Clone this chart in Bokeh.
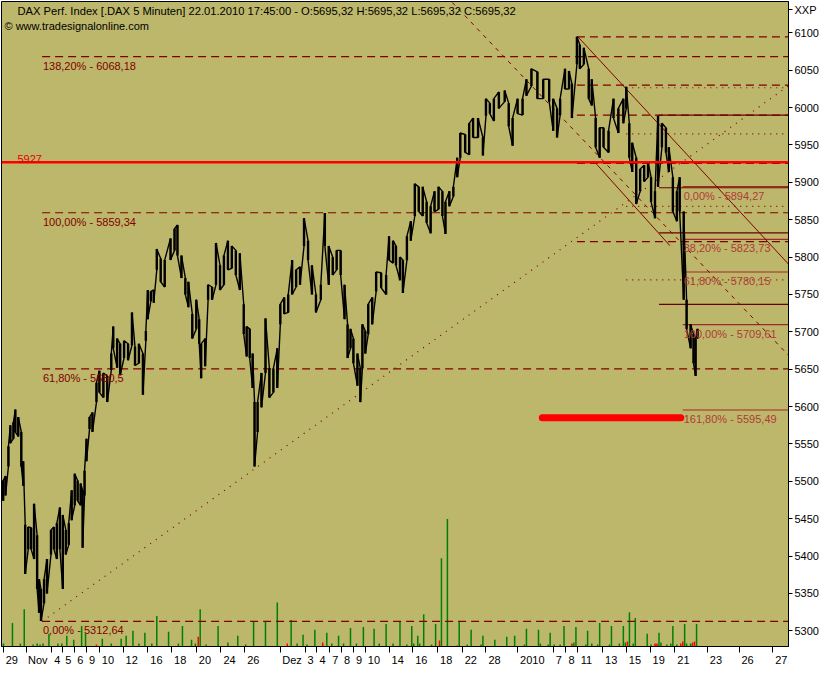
import numpy as np
from bokeh.plotting import figure
from bokeh.models import (Range1d, FixedTicker, Label, LabelSet, ColumnDataSource, Span,
                          LinearAxis)
from bokeh.core.properties import value
from bokeh.embed import file_html
from bokeh.resources import INLINE

# ---------------- data (x = trading days since 29 Oct 2009) ----------------
t = [0.0, 0.19, 0.43, 0.59, 0.84, 1.0, 1.24, 1.49, 1.65, 1.81,
     2.06, 2.30, 2.54, 2.79, 2.95, 3.11, 3.36, 3.60, 3.93, 4.17,
     4.41, 4.66, 4.90, 5.15, 5.39, 5.63, 5.88, 6.12, 6.37, 6.53,
     6.69, 6.85, 7.10, 7.34, 7.67, 7.91, 8.24, 8.56, 8.89, 9.05,
     9.37, 9.62, 9.94, 10.27, 10.59, 10.84, 11.16, 11.49, 11.73, 11.89,
     12.14, 12.38, 12.63, 12.95, 13.28, 13.76, 14.09, 14.33, 14.66, 14.98,
     15.23, 15.55, 15.88, 16.12, 16.28, 16.61, 16.85, 17.18, 17.50, 17.83,
     18.15, 18.48, 18.80, 19.13, 19.46, 19.78, 20.02, 20.27, 20.51, 20.67,
     20.92, 21.24, 21.57, 21.89, 22.22, 22.54, 22.79, 23.11, 23.44, 23.76,
     24.09, 24.41, 24.74, 25.07, 25.39, 25.72, 26.12, 26.45, 26.77, 27.10,
     27.42, 27.75, 28.07, 28.32, 28.56, 28.80, 29.13, 29.37, 29.54, 29.78,
     30.02, 30.35, 30.67, 31.08, 31.49, 31.73, 32.06, 32.30, 32.63, 32.87,
     33.20, 33.52, 33.85, 34.17, 34.50, 34.82, 35.15, 35.47, 35.80, 36.12,
     36.37, 36.69, 37.02, 37.34, 37.59, 37.99, 38.32, 38.64, 39.05, 39.45,
     39.70, 40.02, 40.35, 40.76, 41.24, 41.57, 41.89, 42.30, 42.71, 43.03,
     43.44, 43.93, 44.41, 44.90, 45.23, 45.55, 45.80, 46.20, 46.53, 46.77,
     47.18, 47.42, 47.75, 48.15, 48.40, 48.72, 49.05, 49.37, 49.78, 50.19,
     50.59, 51.00, 51.24, 51.49, 51.73, 52.06, 52.38, 52.71, 53.03, 53.28,
     53.60, 53.85, 54.17, 54.50, 54.74, 55.07, 55.40, 55.63, 55.96, 56.20,
     56.53, 56.77, 56.94, 57.10]

high = [5501, 5507, 5547, 5575, 5579, 5596, 5586, 5566, 5527, 5442,
        5439, 5438, 5470, 5428, 5369, 5356, 5369, 5396, 5435, 5439,
        5444, 5465, 5455, 5435, 5444, 5488, 5510, 5501, 5497, 5488,
        5514, 5557, 5586, 5592, 5632, 5648, 5645, 5641, 5671, 5707,
        5691, 5684, 5688, 5684, 5726, 5680, 5684, 5671, 5701, 5756,
        5754, 5756, 5811, 5798, 5796, 5825, 5838, 5843, 5802, 5772,
        5767, 5724, 5743, 5717, 5684, 5691, 5763, 5760, 5819, 5789,
        5802, 5822, 5815, 5809, 5805, 5737, 5707, 5704, 5671, 5606,
        5606, 5645, 5718, 5651, 5651, 5678, 5737, 5746, 5750, 5796,
        5783, 5787, 5852, 5822, 5789, 5750, 5763, 5859, 5815, 5800,
        5809, 5809, 5763, 5710, 5704, 5691, 5671, 5651, 5710, 5701,
        5737, 5746, 5780, 5779, 5776, 5828, 5822, 5815, 5800, 5796,
        5828, 5848, 5898, 5894, 5894, 5874, 5868, 5888, 5894, 5888,
        5874, 5888, 5894, 5933, 5966, 5964, 5979, 5986, 5986, 5960,
        6012, 6006, 6012, 6021, 6023, 6006, 5986, 6012, 6012, 6038,
        6052, 6048, 6038, 6038, 6012, 5999, 6012, 6052, 6049, 6032,
        6095, 6084, 6080, 6052, 6038, 5986, 5973, 5973, 5969, 6012,
        5999, 6012, 6028, 5979, 5953, 5933, 5918, 5923, 5927, 5907,
        5888, 5989, 5979, 5973, 5947, 5907, 5888, 5907, 5861, 5743,
        5710, 5697, 5691, 5704]

low = [5474, 5481, 5520, 5551, 5557, 5566, 5560, 5520, 5494, 5376,
       5409, 5409, 5396, 5356, 5324, 5313, 5337, 5350, 5402, 5409,
       5396, 5409, 5356, 5402, 5415, 5448, 5468, 5474, 5468, 5411,
       5481, 5527, 5570, 5566, 5606, 5619, 5612, 5606, 5649, 5678,
       5652, 5642, 5665, 5662, 5682, 5655, 5658, 5616, 5688, 5717,
       5741, 5739, 5783, 5767, 5760, 5796, 5809, 5802, 5772, 5750,
       5733, 5691, 5704, 5684, 5638, 5654, 5743, 5743, 5763, 5756,
       5763, 5783, 5785, 5776, 5756, 5697, 5667, 5665, 5625, 5520,
       5566, 5599, 5645, 5612, 5619, 5625, 5710, 5724, 5726, 5750,
       5760, 5763, 5815, 5796, 5750, 5726, 5743, 5815, 5763, 5776,
       5783, 5776, 5717, 5665, 5678, 5658, 5628, 5606, 5651, 5671,
       5697, 5710, 5754, 5759, 5750, 5796, 5792, 5789, 5769, 5752,
       5796, 5822, 5855, 5861, 5855, 5846, 5832, 5861, 5864, 5855,
       5831, 5868, 5881, 5907, 5933, 5940, 5937, 5960, 5960, 5936,
       5989, 5992, 5982, 5999, 6008, 5975, 5949, 5992, 5990, 6016,
       6029, 6012, 6012, 6008, 5969, 5960, 5990, 6025, 6025, 5986,
       6058, 6052, 6058, 6012, 6003, 5947, 5933, 5947, 5940, 5986,
       5966, 5979, 5999, 5933, 5914, 5871, 5888, 5901, 5907, 5874,
       5852, 5894, 5947, 5940, 5914, 5861, 5848, 5861, 5743, 5704,
       5678, 5658, 5641, 5691]

# volume (relative units), down = red bar
vol_t = [0.02, 0.76, 1.41, 1.73, 2.46, 2.79, 3.03, 3.28, 3.76, 4.50, 4.82, 5.23, 5.80, 6.45, 6.77,
         7.67, 8.15, 8.89, 9.70, 10.11, 10.67, 11.16, 11.65, 12.22, 12.63, 13.60, 14.41, 14.74,
         15.49, 15.80, 16.04, 16.20, 16.69, 17.67, 18.48, 19.29, 19.94, 20.59, 21.57, 22.54,
         23.36, 23.68, 24.17, 24.66, 24.98, 25.63, 26.28, 26.61, 27.02, 27.58, 27.99, 28.56,
         29.05, 29.62, 30.50, 30.92, 31.49, 32.06, 32.63, 33.19, 33.60, 33.76, 34.09, 34.25,
         34.58, 35.23, 35.56, 35.88, 36.04, 36.53, 37.34, 37.50, 38.16, 38.48, 39.29, 39.45,
         40.43, 41.41, 42.06, 42.87, 43.03, 44.02, 44.17, 44.82, 44.98, 45.31, 45.80, 46.12,
         46.77, 46.93, 47.10, 47.91, 48.06, 48.40, 48.89, 49.05, 49.86, 50.02, 50.67, 51.00,
         51.16, 51.33, 51.50, 51.81, 51.98, 52.96, 53.28, 53.60, 53.68, 53.77, 53.93, 54.09,
         54.58, 54.90, 55.07, 55.39, 55.72, 55.89, 56.04, 56.20, 56.53, 56.69, 56.85, 57.02]
vol_v = [3, 24, 3, 38, 2, 3, 2, 3, 13, 3, 3, 11, 7, 21, 13,
         2, 8, 3, 8, 11, 16, 3, 14, 3, 31, 15, 3, 21,
         7, 3, 10, 38, 2, 21, 4, 11, 2, 26, 26, 45,
         3, 27, 3, 12, 2, 17, 4, 14, 3, 11, 3, 19,
         3, 20, 18, 3, 23, 3, 26, 2, 21, 3, 11, 3,
         33, 2, 23, 6, 90, 130, 1, 26, 2, 17, 2, 11,
         7, 10, 11, 2, 18, 17, 3, 2, 14, 2, 2, 21,
         3, 4, 20, 2, 16, 3, 2, 24, 2, 21, 3, 21,
         4, 5, 35, 3, 29, 13, 2, 3, 2, 3, 14, 4,
         2, 3, 21, 2, 3, 5, 23, 3, 3, 4, 5, 23]
vol_down = [0, 0, 0, 0, 0, 0, 0, 0, 0, 0, 0, 0, 0, 0, 0,
            1, 0, 0, 0, 0, 0, 0, 0, 0, 0, 0, 0, 0,
            0, 0, 1, 0, 0, 0, 0, 0, 0, 0, 0, 0,
            1, 0, 0, 0, 0, 0, 1, 0, 0, 0, 0, 0,
            0, 0, 0, 0, 0, 0, 0, 0, 0, 0, 0, 0,
            0, 0, 0, 1, 0, 0, 1, 0, 0, 0, 0, 0,
            0, 0, 0, 0, 0, 0, 0, 0, 0, 0, 0, 0,
            1, 0, 0, 0, 0, 0, 0, 0, 0, 0, 0, 0,
            0, 1, 0, 0, 0, 0, 0, 1, 1, 1, 0, 0,
            0, 0, 0, 0, 1, 1, 0, 0, 0, 1, 1, 0]

tick_days = [0.0, 1.89, 4.0, 4.9, 5.88, 6.85, 7.91, 9.86, 11.89, 13.85, 15.88, 17.91, 19.86,
             22.79, 24.82, 25.80, 26.85, 27.83, 28.80, 29.78, 31.73, 33.68, 35.72, 37.75,
             39.70, 42.30, 45.23, 46.28, 47.26, 49.29, 51.24, 53.20, 55.23, 57.91, 60.51, 63.28]
tick_labels = ["29", "Nov", "4", "5", "6", "9", "10", "12", "16", "18", "20", "24", "26",
               "Dez", "3", "4", "7", "8", "9", "10", "14", "16", "18", "22",
               "28", "2010", "7", "8", "11", "13", "15", "19", "21", "23", "26", "27"]
price_ticks = [5300, 5350, 5400, 5450, 5500, 5550, 5600, 5650, 5700, 5750,
               5800, 5850, 5900, 5950, 6000, 6050, 6100]
axis_title = "XXP"
axis_title_level = 6131

header = "DAX Perf. Index [.DAX  5 Minuten] 22.01.2010 17:45:00 - O:5695,32 H:5695,32 L:5695,32 C:5695,32"
copyright_txt = "\u00a9 www.tradesignalonline.com"

resistance = 5927
fib1_start = 3.2
fib1_levels = [5312.64, 5650.5, 5859.34, 6068.18]
fib1_labels = ["0,00% - 5312,64", "61,80% - 5650,5", "100,00% - 5859,34", "138,20% - 6068,18"]
fib2_start = 47.18
fib2_levels = [6094.8, 6030.1, 5990.1, 5925.5, 5820.8]
fib3_start = 51.24
fib3_levels = [6026.6, 5965.0, 5867.9, 5769.5]
fib4_start = 53.93
fib4_levels = [5989.9, 5892.8, 5832.5, 5736.7]
fib5_start = 55.88
fib5_levels = [5894.27, 5823.73, 5780.15, 5709.61, 5595.49]
fib5_labels = ["0,00% - 5894,27", "38,20% - 5823,73", "61,80% - 5780,15",
               "100,00% - 5709,61", "161,80% - 5595,49"]
target_x = [44.33, 55.72]
target_y = [5585, 5585]
uptrend_x, uptrend_y = [3.2, 64.58], [5312.64, 6029.2]
chan_up_x, chan_up_y = [47.26, 64.58], [6094.8, 5790.6]
chan_mid_x, chan_mid_y = [36.93, 64.58], [6140.7, 5668.5]
chan_lo_x, chan_lo_y = [48.80, 54.82], [5924.3, 5815.4]

X0, X1 = -0.14, 64.58
Y0, Y1 = 5279, 6142
VOL_MAX = 658

# ---------------- figure ----------------
FONT = "Liberation Sans"
DARK = "#800000"
FRAME_W, FRAME_H = 787, 645
PX_PER_DAY = FRAME_W / (X1 - X0)

p = figure(frame_width=FRAME_W, frame_height=FRAME_H, output_backend="svg",
           toolbar_location=None,
           x_range=Range1d(X0, X1), y_range=Range1d(Y0, Y1),
           x_axis_location="below", y_axis_location="right",
           min_border_left=1, min_border_top=1, min_border_right=0, min_border_bottom=0,
           background_fill_color="#BDB76B", border_fill_color="white",
           outline_line_color="black", outline_line_width=1)
p.grid.visible = False
p.extra_y_ranges = {"vol": Range1d(0, VOL_MAX)}

ya = p.yaxis[0]
ya.ticker = FixedTicker(ticks=price_ticks + [axis_title_level], minor_ticks=[])
ya.major_label_overrides = {axis_title_level: axis_title}
ya.major_tick_out = 4
ya.major_tick_in = 0
ya.minor_tick_out = 0
ya.major_label_standoff = 2
ya.axis_line_color = "black"
ya.major_label_text_font = FONT
ya.major_label_text_font_size = "11px"
ya.major_label_text_color = "black"

# tick marks (no labels)
xa = p.xaxis[0]
xa.ticker = FixedTicker(ticks=tick_days, minor_ticks=[])
xa.major_tick_out = 6
xa.major_tick_in = 0
xa.minor_tick_out = 0
xa.axis_line_color = "black"
xa.major_label_text_font_size = "0px"
xa.major_label_standoff = 0
xa.major_label_text_color = None

# tick labels, set just right of each tick mark (second axis, no marks)
label_pos = [d + (2.5 + 3.05 * len(s)) / PX_PER_DAY for d, s in zip(tick_days, tick_labels)]
xb = LinearAxis(ticker=FixedTicker(ticks=label_pos, minor_ticks=[]),
                major_label_overrides={lp: s for lp, s in zip(label_pos, tick_labels)},
                major_tick_out=0, major_tick_in=0, minor_tick_out=0, minor_tick_in=0,
                axis_line_color=None, major_label_standoff=1,
                major_label_text_font=FONT, major_label_text_font_size="11px",
                major_label_text_color="black")
p.add_layout(xb, "below")

# volume
vcolors = ["#ff0000" if d else "#008000" for d in vol_down]
vsrc = ColumnDataSource(dict(x=vol_t, top=vol_v, zero=[0] * len(vol_t), c=vcolors))
p.segment(x0="x", y0="zero", x1="x", y1="top", source=vsrc, line_color="c",
          line_width=1.5, y_range_name="vol")

# fib lines
p.ray(x=[fib1_start] * len(fib1_levels), y=fib1_levels, length=0, angle=0,
      line_color=DARK, line_width=1.2, line_dash="8 5")
p.ray(x=[fib2_start] * len(fib2_levels), y=fib2_levels, length=0, angle=0,
      line_color=DARK, line_width=1.2, line_dash="8 5")
p.ray(x=[fib3_start] * len(fib3_levels), y=fib3_levels, length=0, angle=0,
      line_color=DARK, line_width=1.2, line_dash="1 5")
p.ray(x=[fib4_start] * len(fib4_levels), y=fib4_levels, length=0, angle=0,
      line_color="#6b0000", line_width=1.2)
p.ray(x=[fib5_start] * len(fib5_levels), y=fib5_levels, length=0, angle=0,
      line_color="#a02828", line_width=1.1)

# trend lines
p.line(uptrend_x, uptrend_y, line_color=DARK, line_width=1.2, line_dash="1 6")
p.line(chan_up_x, chan_up_y, line_color=DARK, line_width=1)
p.line(chan_mid_x, chan_mid_y, line_color=DARK, line_width=1, line_dash="4 5")
p.line(chan_lo_x, chan_lo_y, line_color=DARK, line_width=1)

# resistance
p.add_layout(Span(location=resistance, dimension="width", line_color="#ff0000", line_width=2.5))

# target bar
p.line(target_x, target_y, line_color="#ff0000", line_width=7, line_cap="round")

# price band (high/low per column, zig-zag)
px_, py_ = [], []
for i, (ti, h, l) in enumerate(zip(t, high, low)):
    if i % 2 == 0:
        px_ += [ti, ti]; py_ += [l, h]
    else:
        px_ += [ti, ti]; py_ += [h, l]
p.line(px_, py_, line_color="black", line_width=1.4)
p.segment(x0=t, y0=low, x1=t, y1=high, line_color="black", line_width=2.4)

# labels
txt_set = dict(text_font=value(FONT), text_font_size="11px")
txt = dict(text_font=FONT, text_font_size="11px")
lab1 = ColumnDataSource(dict(x=[fib1_start + 0.07] * 4, y=fib1_levels, t=fib1_labels))
p.add_layout(LabelSet(x="x", y="y", text="t", source=lab1, text_baseline="top",
                      y_offset=-3, text_color=DARK, **txt_set))
lab5 = ColumnDataSource(dict(x=[fib5_start + 0.08] * 5, y=fib5_levels, t=fib5_labels))
p.add_layout(LabelSet(x="x", y="y", text="t", source=lab5, text_baseline="top",
                      y_offset=-3, text_color="#b03a3a", **txt_set))
p.add_layout(Label(x=X0, y=resistance, x_offset=16, y_offset=3, text="5927",
                   text_baseline="alphabetic", text_color="#e00000", **txt))

p.add_layout(Label(x=X0, y=Y1, x_offset=16, y_offset=-3, text=header,
                   text_baseline="top", text_color="black", text_font=FONT,
                   text_font_size="11.2px"))
p.add_layout(Label(x=X0, y=Y1, x_offset=3, y_offset=-18, text=copyright_txt,
                   text_baseline="top", text_color="black", **txt))

open("out.html", "w").write(file_html(p, INLINE))
